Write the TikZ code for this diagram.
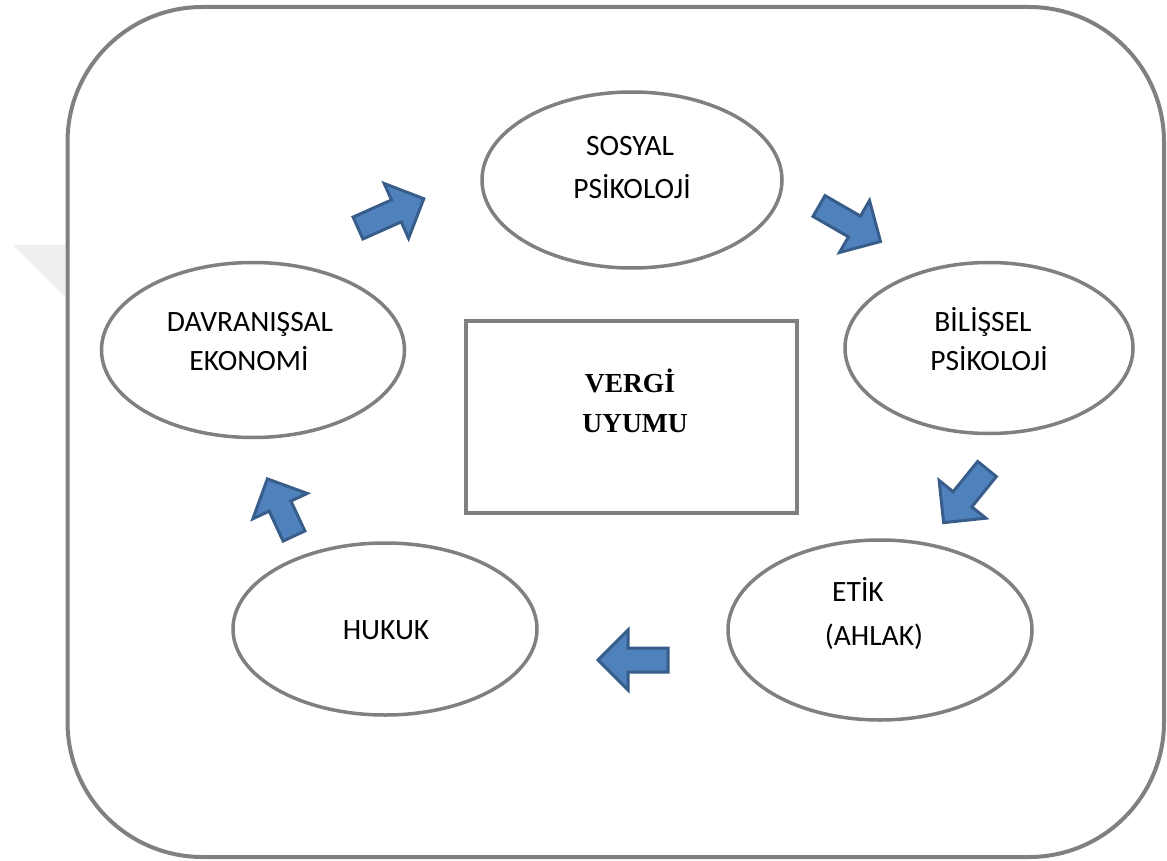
\documentclass[tikz,border=0pt]{standalone}
\usepackage{fontspec}
\setmainfont{Carlito}
\newfontfamily\timesfont{Liberation Serif}
\usetikzlibrary{shapes.geometric}
\definecolor{framegray}{HTML}{808080}
\definecolor{arrfill}{HTML}{4F81BD}
\definecolor{arrdraw}{HTML}{385D8A}
\definecolor{wmgray}{HTML}{EFEFEF}
\tikzset{
  oval/.style={ellipse, draw=framegray, line width=3.5pt, fill=white, inner sep=0pt},
  lbl/.style={anchor=base, inner sep=0pt, font=\fontsize{29.5}{36}\selectfont, text=black},
  biglbl/.style={anchor=base, inner sep=0pt, font=\timesfont\bfseries\fontsize{27.5}{33}\selectfont, text=black},
  barrow/.style={fill=arrfill, draw=arrdraw, line width=3pt, line join=miter},
}
\newcommand\blockarr[3]{%
  \draw[barrow, shift={(#1)}, rotate=#2]
    (0,-12) -- ({#3-30},-12) -- ({#3-30},-30) -- (#3,0) -- ({#3-30},30) -- ({#3-30},12) -- (0,12) -- cycle;}
\begin{document}
\begin{tikzpicture}[x=1pt,y=-1pt]
\useasboundingbox (0,0) rectangle (1167,861);
% faint watermark
\fill[wmgray] (13,245) -- (65,245) -- (65,297) -- cycle;
% outer frame
\draw[framegray, line width=4pt, rounded corners=135pt] (67.5,7) rectangle (1164,857);
% centre box
\node[draw=framegray, line width=4.5pt, minimum width=331pt, minimum height=192pt, inner sep=0pt] (box) at (631.5,417) {};
\node[biglbl] (t1) at (630,392) {VERG\.I};
\node[biglbl] (t2) at (635,432) {UYUMU};
% ellipses
\node[oval, minimum width=300pt, minimum height=176pt] (sos) at (632,180) {};
\node[oval, minimum width=288pt, minimum height=171pt] (bil) at (989,348) {};
\node[oval, minimum width=303pt, minimum height=175pt] (dav) at (253,350) {};
\node[oval, minimum width=304pt, minimum height=180pt] (etk) at (880,630) {};
\node[oval, minimum width=304pt, minimum height=172pt] (huk) at (385,629) {};
% labels
\node[lbl] (s1) at (630,155.5) {SOSYAL};
\node[lbl] (s2) at (632,199) {PS\.IKOLOJ\.I};
\node[lbl] (b1) at (983,331.5) {B\.IL\.I\c{S}SEL};
\node[lbl] (b2) at (989,370.5) {PS\.IKOLOJ\.I};
\node[lbl] (d1) at (250,331.5) {DAVRANI\c{S}SAL};
\node[lbl] (d2) at (249,370.5) {EKONOM\.I};
\node[lbl] (e1) at (858,601.5) {ET\.IK};
\node[lbl] (e2) at (874,645.5) {(AHLAK)};
\node[lbl] (h1) at (386,639.5) {HUKUK};
% block arrows
\coordinate (a1) at (358,228);
\coordinate (a2) at (819,206);
\coordinate (a3) at (987,469);
\coordinate (a4) at (668,660);
\coordinate (a5) at (294,536);
\blockarr{a1}{24}{72}
\blockarr{a2}{-30}{71}
\blockarr{a3}{-129}{69}
\blockarr{a4}{180}{70}
\blockarr{a5}{115}{63}
\end{tikzpicture}
\end{document}
